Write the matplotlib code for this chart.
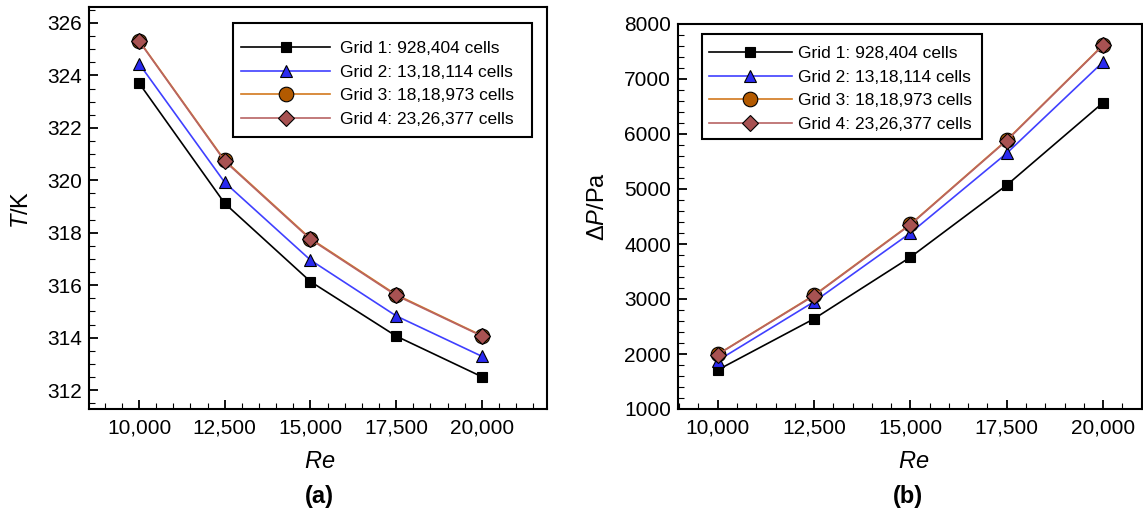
import matplotlib
matplotlib.use("Agg")
import matplotlib.pyplot as plt
from matplotlib.patches import Rectangle
from matplotlib.ticker import MultipleLocator, FuncFormatter

plt.rcParams['font.family'] = ['Liberation Sans', 'DejaVu Sans']
plt.rcParams['mathtext.fontset'] = 'custom'
plt.rcParams['mathtext.rm'] = 'Liberation Sans'
plt.rcParams['mathtext.it'] = 'Liberation Sans:italic'

# data
re = [10000, 12500, 15000, 17500, 20000]
labels = ["Grid 1: 928,404 cells", "Grid 2: 13,18,114 cells",
          "Grid 3: 18,18,973 cells", "Grid 4: 23,26,377 cells"]

temp_g1 = [323.71, 319.12, 316.14, 314.06, 312.51]
temp_g2 = [324.45, 319.92, 316.96, 314.83, 313.29]
temp_g3 = [325.33, 320.76, 317.78, 315.64, 314.08]
temp_g4 = [325.31, 320.73, 317.75, 315.61, 314.06]

dp_g1 = [1710, 2640, 3760, 5070, 6570]
dp_g2 = [1880, 2950, 4200, 5650, 7310]
dp_g3 = [1995, 3070, 4360, 5890, 7620]
dp_g4 = [1990, 3060, 4350, 5880, 7610]

styles = [
    dict(color='black', marker='s', mfc='black', ms=7.5),
    dict(color='#4040ff', marker='^', mfc='#2a2af0', ms=9),
    dict(color='#d2781e', marker='o', mfc='#b35a00', ms=10.5),
    dict(color='#b86464', marker='D', mfc='#a85252', ms=8),
]

W, H = 1143, 515
fig = plt.figure(figsize=(W / 100, H / 100), dpi=100)


def px_axes(x0, y0, x1, y1):
    return fig.add_axes([x0 / W, 1 - y1 / H, (x1 - x0) / W, (y1 - y0) / H])


ax1 = px_axes(89, 7, 547, 409)
ax2 = px_axes(678, 24, 1142, 409)


def draw(ax, series, frame, anchor, hlen, hpad):
    for ys, st, lab in zip(series, styles, labels):
        ax.plot(re, ys, linestyle='-', lw=1.2, color=st['color'],
                marker=st['marker'], markersize=st['ms'],
                markerfacecolor=st['mfc'], markeredgecolor='black',
                markeredgewidth=0.8, label=lab)
    for s in ax.spines.values():
        s.set_linewidth(1.5)
    ax.xaxis.set_major_locator(MultipleLocator(2500))
    ax.xaxis.set_minor_locator(MultipleLocator(500))
    ax.xaxis.set_major_formatter(FuncFormatter(lambda v, p: f"{int(v):,}"))
    ax.tick_params(which='both', direction='in', top=False, right=False,
                   labelsize=15)
    ax.tick_params(which='major', length=6.5, width=1.3)
    ax.tick_params(which='minor', length=4, width=0.8)
    ax.tick_params(axis='x', which='major', pad=6.5)
    ax.tick_params(axis='y', which='major', pad=5)

    # legend frame drawn separately so the padding can match the original
    fx0, fy0, fx1, fy1 = frame
    ax.add_patch(Rectangle((fx0 / W, 1 - fy1 / H), (fx1 - fx0) / W,
                           (fy1 - fy0) / H, transform=fig.transFigure,
                           facecolor='white', edgecolor='black',
                           linewidth=1.5, zorder=4, clip_on=False))
    ax.legend(loc='center left',
              bbox_to_anchor=(anchor[0] / W, 1 - anchor[1] / H),
              bbox_transform=fig.transFigure, borderaxespad=0, borderpad=0,
              fontsize=12.5, frameon=False, handlelength=hlen,
              labelspacing=0.5, handletextpad=hpad).set_zorder(5)


draw(ax1, [temp_g1, temp_g2, temp_g3, temp_g4],
     (233, 23, 532, 137), (241, 84), 5.13, 0.58)
ax1.set_xlim(8540, 21900)
ax1.set_ylim(311.28, 326.61)
ax1.yaxis.set_major_locator(MultipleLocator(2))
ax1.yaxis.set_minor_locator(MultipleLocator(0.5))
ax1.set_ylabel('$T$/K', fontsize=17, va='center')
ax1.yaxis.set_label_coords(22 / W, 1 - 210 / H, transform=fig.transFigure)
ax1.set_xlabel('$Re$', fontsize=17, va='center')
ax1.xaxis.set_label_coords(320 / W, 1 - 462 / H, transform=fig.transFigure)

draw(ax2, [dp_g1, dp_g2, dp_g3, dp_g4],
     (702, 34, 982, 139), (709, 89), 4.78, 0.35)
ax2.set_xlim(8970, 21010)
ax2.set_ylim(1000, 8000)
ax2.yaxis.set_major_locator(MultipleLocator(1000))
ax2.yaxis.set_minor_locator(MultipleLocator(200))
ax2.set_ylabel('Δ$P$/Pa', fontsize=17, va='center')
ax2.yaxis.set_label_coords(598 / W, 1 - 207 / H, transform=fig.transFigure)
ax2.set_xlabel('$Re$', fontsize=17, va='center')
ax2.xaxis.set_label_coords(914 / W, 1 - 462 / H, transform=fig.transFigure)

fig.text(319 / W, 1 - 497 / H, '(a)', ha='center', va='center',
         fontsize=17, fontweight='bold')
fig.text(908 / W, 1 - 497 / H, '(b)', ha='center', va='center',
         fontsize=17, fontweight='bold')

fig.savefig('out.png', dpi=100)
